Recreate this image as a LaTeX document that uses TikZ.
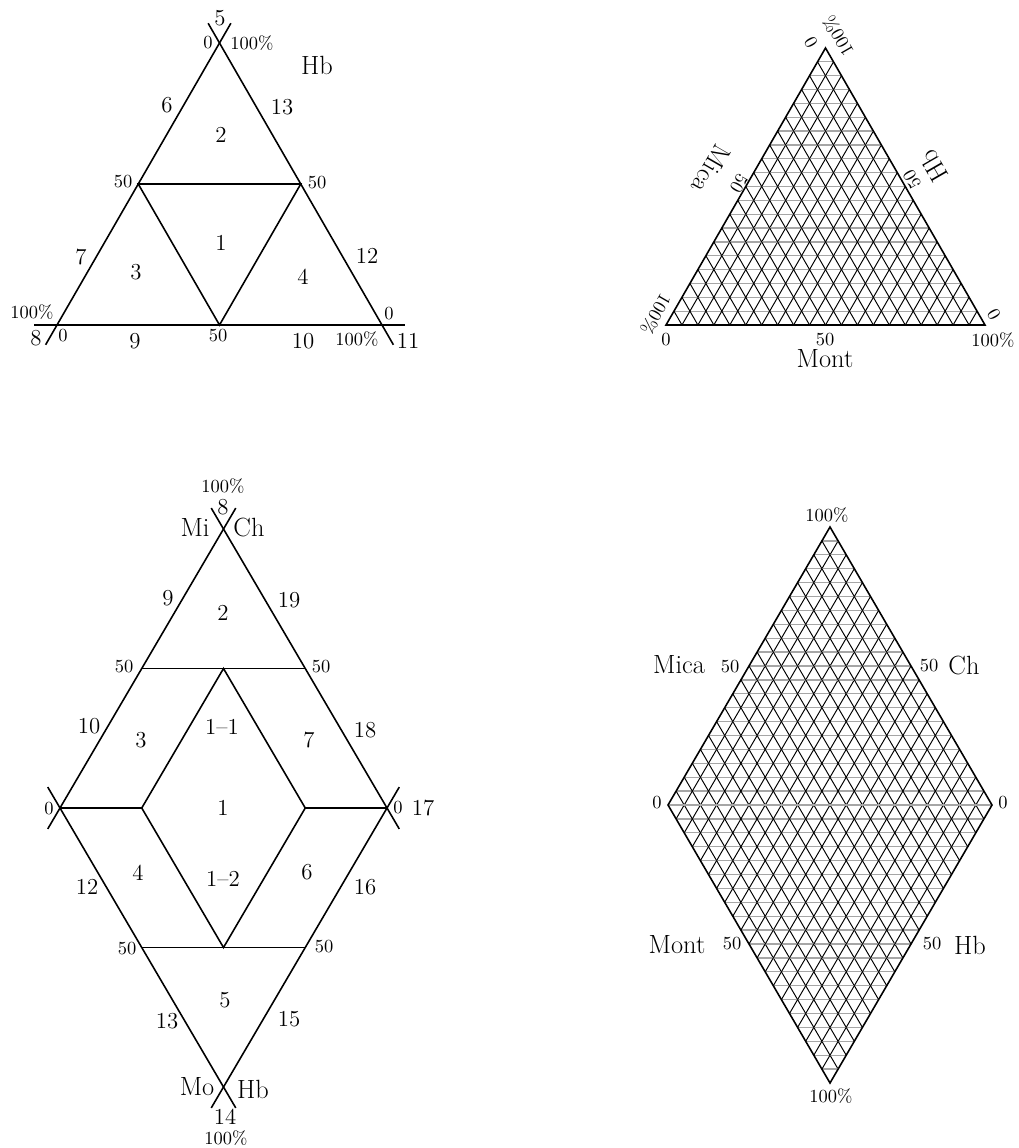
\documentclass[tikz,border=0pt]{standalone}
\usetikzlibrary{calc}

% grid of a triangle: apex, left corner, right corner (20 steps)
\newcommand{\trigrid}[3]{%
  \foreach \i in {1,...,19} {
    \pgfmathsetmacro{\gpos}{\i/20}
    \draw[gridh] ($(#2)!\gpos!(#1)$) -- ($(#3)!\gpos!(#1)$);
    \draw[gridd] ($(#2)!\gpos!(#3)$) -- ($(#1)!\gpos!(#3)$);
    \draw[gridd] ($(#2)!\gpos!(#3)$) -- ($(#2)!\gpos!(#1)$);
  }%
}

\begin{document}
\begin{tikzpicture}[x=0.02cm, y=-0.02cm,
  frame/.style={line width=0.9pt, black},
  gridd/.style={line width=0.55pt, black},
  gridh/.style={line width=0.7pt, gray!70},
  num/.style={font=\fontsize{13}{15}\selectfont, inner sep=0pt},
  pct/.style={font=\fontsize{10.5}{12}\selectfont, inner sep=0pt},
  nam/.style={font=\fontsize{15}{17}\selectfont, inner sep=0pt}]
  \useasboundingbox (0,0) rectangle (1018,1148);

  % ---- upper left triangle
  \coordinate (aT) at (219.5,43);
  \coordinate (aL) at (57,325);
  \coordinate (aR) at (382,325);
  \foreach \p/\q in {aT/aL, aL/aR, aR/aT}
    \draw[frame] ($(\p)!-0.07!(\q)$) -- ($(\q)!-0.07!(\p)$);
  \coordinate (aML) at ($(aT)!0.5!(aL)$);
  \coordinate (aMR) at ($(aT)!0.5!(aR)$);
  \coordinate (aMB) at ($(aL)!0.5!(aR)$);
  \draw[frame] (aML) -- (aMR) -- (aMB) -- cycle;

  \foreach \xy/\txt [count=\k] in {(220,18)/5, (167,105)/6, (282,107)/13,
      (221,135)/2, (221,243)/1, (81,257)/7, (136,272)/3, (367,256)/12,
      (303,277)/4, (36,338)/8, (135,341)/9, (303,341)/10, (408,341)/11}
    \node[num] (an\k) at \xy {\txt};
  \foreach \xy/\txt [count=\k] in {(208,43)/0, (252,43)/100\%, (123,182)/50,
      (317,183)/50, (32,312)/100\%, (389,314)/0, (63,336)/0, (218,336)/50,
      (357,339)/100\%}
    \node[pct] (ap\k) at \xy {\txt};
  \node[nam] (aHb) at (317,65) {Hb};

  % ---- upper right triangle (grid)
  \coordinate (bT) at (825.5,48);
  \coordinate (bL) at (666,325);
  \coordinate (bR) at (985,325);
  \trigrid{bT}{bL}{bR}
  \draw[frame] (bT) -- (bL) -- (bR) -- cycle;

  \node[pct, rotate=120] (bp1) at (811,42) {0};
  \node[pct, rotate=120] (bp2) at (838,36) {100\%};
  \node[pct, rotate=240] (bp3) at (739,183) {50};
  \node[nam, rotate=240] (bMica) at (711,169) {Mica};
  \node[pct, rotate=120] (bp4) at (912,179) {50};
  \node[nam, rotate=120] (bHb) at (934,166) {Hb};
  \node[pct, rotate=240] (bp5) at (656,314) {100\%};
  \node[pct, rotate=120] (bp6) at (994,314) {0};
  \node[pct] (bp7) at (666,340) {0};
  \node[pct] (bp8) at (825,340) {50};
  \node[pct] (bp9) at (993,340) {100\%};
  \node[nam] (bMont) at (825,359) {Mont};

  % ---- lower left diamond
  \coordinate (cT) at (223.5,529);
  \coordinate (cL) at (60,808);
  \coordinate (cR) at (387,808);
  \coordinate (cB) at (223.5,1087);
  \coordinate (cC) at ($(cL)!0.5!(cR)$);
  \foreach \p/\q in {cT/cL, cL/cB, cB/cR, cR/cT}
    \draw[frame] ($(\p)!-0.075!(\q)$) -- ($(\q)!-0.075!(\p)$);
  \coordinate (cML) at ($(cT)!0.5!(cL)$);
  \coordinate (cMR) at ($(cT)!0.5!(cR)$);
  \coordinate (cBL) at ($(cB)!0.5!(cL)$);
  \coordinate (cBR) at ($(cB)!0.5!(cR)$);
  \coordinate (cIT) at ($(cT)!0.5!(cC)$);
  \coordinate (cIB) at ($(cB)!0.5!(cC)$);
  \coordinate (cIL) at ($(cL)!0.5!(cC)$);
  \coordinate (cIR) at ($(cR)!0.5!(cC)$);
  \draw[frame] (cML) -- (cMR);
  \draw[frame] (cBL) -- (cBR);
  \draw[frame] (cL) -- (cIL);
  \draw[frame] (cIR) -- (cR);
  \draw[frame] (cIT) -- (cIL) -- (cIB) -- (cIR) -- cycle;

  \foreach \xy/\txt [count=\k] in {(223,507)/8, (168,598)/9, (223,613)/2,
      (289,600)/19, (89,726)/10, (141,740)/3, (222,727)/1--1, (309,740)/7,
      (365,730)/18, (223,808)/1, (423,808)/17, (87,887)/12, (138,873)/4,
      (223,879)/1--2, (307,872)/6, (365,887)/16, (225,1000)/5, (167,1021)/13,
      (289,1019)/15, (225,1117)/14}
    \node[num] (cn\k) at \xy {\txt};
  \foreach \xy/\txt [count=\k] in {(223,486)/100\%, (124,667)/50, (321,667)/50,
      (49,809)/0, (398,808)/0, (127,949)/50, (324,947)/50, (226,1138)/100\%}
    \node[pct] (cp\k) at \xy {\txt};
  \node[nam] (cMi) at (195,527) {Mi};
  \node[nam] (cCh) at (249,527) {Ch};
  \node[nam] (cMo) at (197,1087) {Mo};
  \node[nam] (cHb) at (253,1089) {Hb};

  % ---- lower right diamond (grid)
  \coordinate (dT) at (830,527);
  \coordinate (dL) at (668,805);
  \coordinate (dR) at (992,805);
  \coordinate (dB) at (830,1083);
  \trigrid{dT}{dL}{dR}
  \trigrid{dB}{dL}{dR}
  \draw[gridh] (dL) -- (dR);
  \draw[frame] (dT) -- (dL) -- (dB) -- (dR) -- cycle;

  \foreach \xy/\txt [count=\k] in {(827,515)/100\%, (730,667)/50, (929,666)/50,
      (657,803)/0, (1003,803)/0, (732,944)/50, (932,944)/50, (831,1096)/100\%}
    \node[pct] (dp\k) at \xy {\txt};
  \node[nam] (dMica) at (679,665) {Mica};
  \node[nam] (dCh) at (964,665) {Ch};
  \node[nam] (dMont) at (677,945) {Mont};
  \node[nam] (dHb) at (970,945) {Hb};
\end{tikzpicture}
\end{document}
